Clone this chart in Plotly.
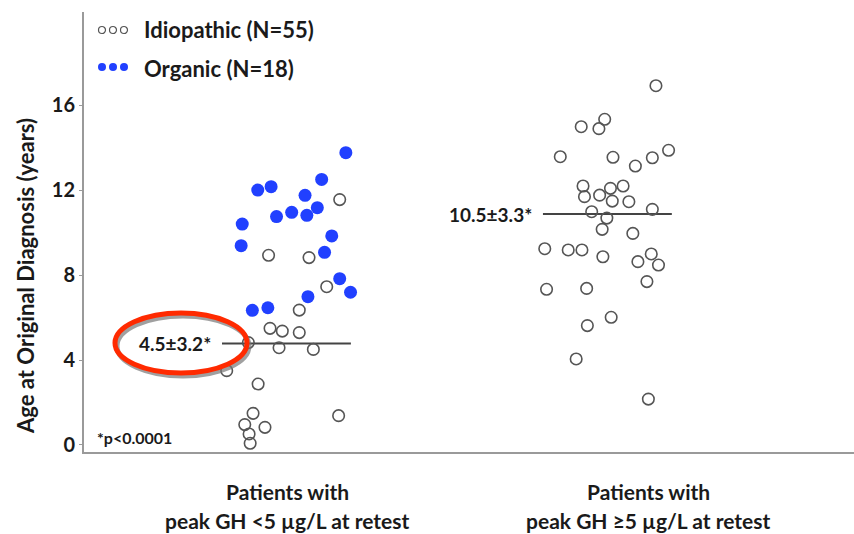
import plotly.graph_objects as go

# ---- data ----
categories = [1, 2]
cat_line1 = ["Patients with", "Patients with"]
cat_line2 = ["peak GH <5 µg/L at retest", "peak GH ≥5 µg/L at retest"]

organic_x = [1.163, 0.919, 0.956, 1.096, 1.050, 1.084, 1.013, 1.055, 0.971,
             0.876, 0.873, 1.124, 1.104, 1.146, 1.176, 1.058, 0.904, 0.947]
organic_y = [13.76, 12.00, 12.16, 12.50, 11.75, 11.17, 10.95, 10.81, 10.75,
             10.40, 9.38, 9.84, 9.07, 7.83, 7.19, 6.98, 6.34, 6.46]

idio_low_x = [1.146, 0.949, 1.061, 1.110, 1.034, 0.953, 0.987, 1.034, 0.893,
              0.978, 1.073, 0.833, 0.920, 0.906, 1.143, 0.883, 0.939, 0.895, 0.898]
idio_low_y = [11.55, 8.93, 8.82, 7.45, 6.35, 5.49, 5.36, 5.29, 4.82,
              4.58, 4.50, 3.50, 2.87, 1.49, 1.38, 0.96, 0.83, 0.52, 0.08]

idio_high_x = [2.022, 1.880, 1.815, 1.864, 1.757, 1.903, 2.057, 2.012, 1.965,
               1.820, 1.931, 1.896, 1.824, 1.866, 1.901, 1.947, 1.844, 2.012,
               1.886, 1.873, 1.958, 1.714, 1.779, 1.817, 1.875, 2.009, 1.972,
               2.029, 1.997, 1.719, 1.830, 1.898, 1.832, 1.801, 2.001]
idio_high_y = [16.91, 15.33, 14.98, 14.89, 13.57, 13.54, 13.87, 13.52, 13.13,
               12.19, 12.19, 12.08, 11.69, 11.76, 11.48, 11.45, 10.98, 11.09,
               10.68, 10.15, 9.96, 9.24, 9.18, 9.18, 8.86, 8.99, 8.63,
               8.47, 7.69, 7.33, 7.37, 6.01, 5.62, 4.05, 2.16]

mean_line_y = [4.78, 10.87]
mean_line_x0 = [0.820, 1.709]
mean_line_x1 = [1.177, 2.066]
mean_labels = ["4.5±3.2*", "10.5±3.3*"]

y_ticks = [0, 4, 8, 12, 16]

FONT = "Lato, 'Open Sans', sans-serif"
BLUE = "#2140ff"
OPEN_EDGE = "#555555"
TXT = "#1a1a1a"

fig = go.Figure()

for x0, x1, y in zip(mean_line_x0, mean_line_x1, mean_line_y):
    fig.add_trace(go.Scatter(x=[x0, x1], y=[y, y], mode="lines",
                             line=dict(color="#444444", width=2),
                             showlegend=False, hoverinfo="skip"))

fig.add_trace(go.Scatter(x=idio_low_x + idio_high_x, y=idio_low_y + idio_high_y,
                         mode="markers", showlegend=False,
                         marker=dict(symbol="circle-open", size=11.5,
                                     color=OPEN_EDGE, line=dict(width=1.6))))
fig.add_trace(go.Scatter(x=organic_x, y=organic_y, mode="markers", showlegend=False,
                         marker=dict(symbol="circle", size=13, color=BLUE,
                                     line=dict(width=0))))

# plot area pixel geometry
L, T, W, H = 84, 12, 770, 440


def px(xp):
    return (xp - L) / W


def py(yp):
    return (T + H - yp) / H


annotations = []
# mean labels
annotations.append(dict(x=mean_line_x0[0] - 0.025, y=mean_line_y[0], xref="x", yref="y",
                        text="<b>" + mean_labels[0] + "</b>", showarrow=False,
                        xanchor="right", yanchor="middle",
                        font=dict(family=FONT, size=19, color=TXT)))
annotations.append(dict(x=mean_line_x0[1] - 0.025, y=mean_line_y[1], xref="x", yref="y",
                        text="<b>" + mean_labels[1] + "</b>", showarrow=False,
                        xanchor="right", yanchor="middle",
                        font=dict(family=FONT, size=19, color=TXT)))

# category labels
for c, l1, l2 in zip(categories, cat_line1, cat_line2):
    annotations.append(dict(x=c, y=py(492), xref="x", yref="paper", text="<b>" + l1 + "</b>",
                            showarrow=False, yanchor="middle",
                            font=dict(family=FONT, size=21, color=TXT)))
    annotations.append(dict(x=c, y=py(520), xref="x", yref="paper", text="<b>" + l2 + "</b>",
                            showarrow=False, yanchor="middle",
                            font=dict(family=FONT, size=21, color=TXT)))

# y title
annotations.append(dict(x=px(25), y=py(276), xref="paper", yref="paper",
                        text="<b>Age at Original Diagnosis (years)</b>", textangle=-90,
                        showarrow=False, xanchor="center", yanchor="middle",
                        font=dict(family=FONT, size=22, color=TXT)))

# p value note
annotations.append(dict(x=px(95), y=py(437), xref="paper", yref="paper",
                        text="<b>*p<0.0001</b>", showarrow=False, xanchor="left",
                        yanchor="middle", font=dict(family=FONT, size=16, color=TXT)))

# legend texts
annotations.append(dict(x=px(142), y=py(30), xref="paper", yref="paper",
                        text="<b>Idiopathic (N=55)</b>", showarrow=False, xanchor="left",
                        yanchor="middle", font=dict(family=FONT, size=22, color=TXT)))
annotations.append(dict(x=px(142), y=py(68), xref="paper", yref="paper",
                        text="<b>Organic (N=18)</b>", showarrow=False, xanchor="left",
                        yanchor="middle", font=dict(family=FONT, size=22, color=TXT)))

shapes = []
# legend symbols
for cx in [102, 113, 124]:
    shapes.append(dict(type="circle", xref="paper", yref="paper",
                       x0=px(cx - 3.5), x1=px(cx + 3.5), y0=py(30 + 3.5), y1=py(30 - 3.5),
                       line=dict(color=OPEN_EDGE, width=1.2), fillcolor="white"))
    shapes.append(dict(type="circle", xref="paper", yref="paper",
                       x0=px(cx - 4), x1=px(cx + 4), y0=py(67 + 4), y1=py(67 - 4),
                       line=dict(color=BLUE, width=0), fillcolor=BLUE))

# highlight ellipse (shadow + red)
shapes.append(dict(type="circle", xref="paper", yref="paper",
                   x0=px(117), x1=px(249), y0=py(376), y1=py(316),
                   line=dict(color="rgba(120,120,120,0.7)", width=5)))
shapes.append(dict(type="circle", xref="paper", yref="paper",
                   x0=px(115), x1=px(247), y0=py(373), y1=py(313),
                   line=dict(color="#ff2a00", width=5)))

fig.update_layout(
    width=854, height=534,
    margin=dict(l=L, r=854 - L - W, t=T, b=534 - T - H),
    paper_bgcolor="white", plot_bgcolor="white",
    font=dict(family=FONT),
    xaxis=dict(range=[0.4377, 2.5706], showgrid=False, zeroline=False,
               showline=True, linecolor="#9a9a9a", linewidth=2,
               showticklabels=False, ticks=""),
    yaxis=dict(range=[-0.33, 20.38], showgrid=False, zeroline=False,
               showline=True, linecolor="#9a9a9a", linewidth=2,
               tickvals=y_ticks, ticktext=["<b>%d</b>" % v for v in y_ticks],
               ticks="outside", ticklen=3, tickcolor="#9a9a9a", tickwidth=1,
               tickfont=dict(family=FONT, size=20, color=TXT)),
    annotations=annotations, shapes=shapes,
)

fig.write_html("out.html")
